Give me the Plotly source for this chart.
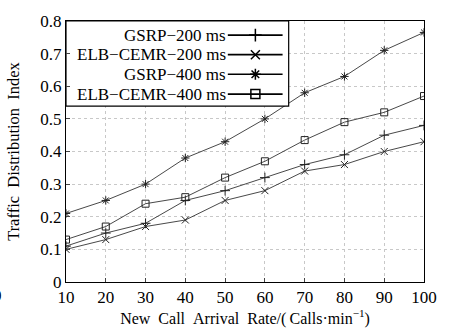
import plotly.graph_objects as go

# ---- data ----
rates = [10, 20, 30, 40, 50, 60, 70, 80, 90, 100]
gsrp_200 = [0.11, 0.15, 0.18, 0.25, 0.28, 0.32, 0.36, 0.39, 0.45, 0.48]
elb_200 = [0.10, 0.13, 0.17, 0.19, 0.25, 0.28, 0.34, 0.36, 0.40, 0.43]
gsrp_400 = [0.21, 0.25, 0.30, 0.38, 0.43, 0.50, 0.58, 0.63, 0.71, 0.765]
elb_400 = [0.13, 0.17, 0.24, 0.26, 0.32, 0.37, 0.435, 0.49, 0.52, 0.57]
series_names = ["GSRP\u2212200 ms", "ELB\u2212CEMR\u2212200 ms", "GSRP\u2212400 ms", "ELB\u2212CEMR\u2212400 ms"]
series_values = [gsrp_200, elb_200, gsrp_400, elb_400]
symbols = ["cross-thin", "x-thin", "asterisk", "square-open"]
y_ticks = [0, 0.1, 0.2, 0.3, 0.4, 0.5, 0.6, 0.7, 0.8]
x_ticks = rates

FONT = "Liberation Serif"
fig = go.Figure()

for name, vals, sym in zip(series_names, series_values, symbols):
    fig.add_trace(go.Scatter(
        x=rates, y=vals, mode="lines+markers", name=name, showlegend=False,
        line=dict(color="#333333", width=0.9),
        marker=dict(symbol=sym, size=7, color="#222222",
                    line=dict(color="#222222", width=1)),
    ))

# ---- custom legend (symbol to the right of the text, MATLAB style) ----
box_x0, box_x1 = 0.0, 0.622
box_y0, box_y1 = 0.674, 1.0
row_y = [0.946, 0.871, 0.796, 0.720]
text_right = 0.452
line_x0, line_x1, mark_x = 0.452, 0.605, 0.529

fig.add_trace(go.Scatter(
    x=[box_x0, box_x1, box_x1, box_x0, box_x0], y=[box_y0, box_y0, box_y1, box_y1, box_y0],
    mode="lines", fill="toself", fillcolor="white", line=dict(color="black", width=1.2),
    xaxis="x2", yaxis="y2", showlegend=False, hoverinfo="skip",
))
for yy in row_y:
    fig.add_trace(go.Scatter(
        x=[line_x0, line_x1], y=[yy, yy], mode="lines", line=dict(color="black", width=1.6),
        xaxis="x2", yaxis="y2", showlegend=False, hoverinfo="skip",
    ))
fig.add_trace(go.Scatter(
    x=[mark_x] * 4, y=row_y, mode="markers", xaxis="x2", yaxis="y2", showlegend=False,
    hoverinfo="skip",
    marker=dict(symbol=symbols, size=9, color="black", line=dict(color="black", width=1.5)),
))

annotations = []
for name, yy in zip(series_names, row_y):
    annotations.append(dict(xref="paper", yref="paper", x=text_right, y=yy, text=name,
                            showarrow=False, xanchor="right", yanchor="middle",
                            font=dict(family=FONT, size=17, color="black")))
# clipped glyph at the far left edge of the reference image
annotations.append(dict(xref="paper", yref="paper", x=-0.192, y=-0.05, text="0",
                        showarrow=False, xanchor="center", yanchor="middle",
                        font=dict(family=FONT, size=17, color="black")))

fig.update_layout(
    width=449, height=335,
    margin=dict(l=66, r=18, t=12, b=44),
    paper_bgcolor="white", plot_bgcolor="white",
    font=dict(family=FONT, color="black"),
    annotations=annotations,
    xaxis=dict(range=[10, 100], tickvals=x_ticks, ticks="inside", ticklen=4,
               showline=True, mirror=True, linecolor="black", linewidth=1,
               showgrid=True, gridcolor="#c8c8c8", griddash="dot", gridwidth=1,
               zeroline=False, tickfont=dict(family=FONT, size=17),
               title=dict(text="New\u00a0\u00a0Call\u00a0\u00a0Arrival\u00a0\u00a0Rate/(\u2009Calls\u00b7min<sup>\u22121</sup>)",
                          font=dict(family=FONT, size=16), standoff=4)),
    yaxis=dict(range=[0, 0.8], tickvals=y_ticks, ticks="inside", ticklen=4,
               showline=True, mirror=True, linecolor="black", linewidth=1,
               showgrid=True, gridcolor="#c8c8c8", griddash="dot", gridwidth=1,
               zeroline=False, tickfont=dict(family=FONT, size=17),
               title=dict(text="Traffic\u00a0\u00a0Distribution\u00a0\u00a0Index",
                          font=dict(family=FONT, size=16.5), standoff=16)),
    xaxis2=dict(overlaying="x", range=[0, 1], visible=False, domain=[0, 1]),
    yaxis2=dict(overlaying="y", range=[0, 1], visible=False),
)

fig.write_html("out.html")
